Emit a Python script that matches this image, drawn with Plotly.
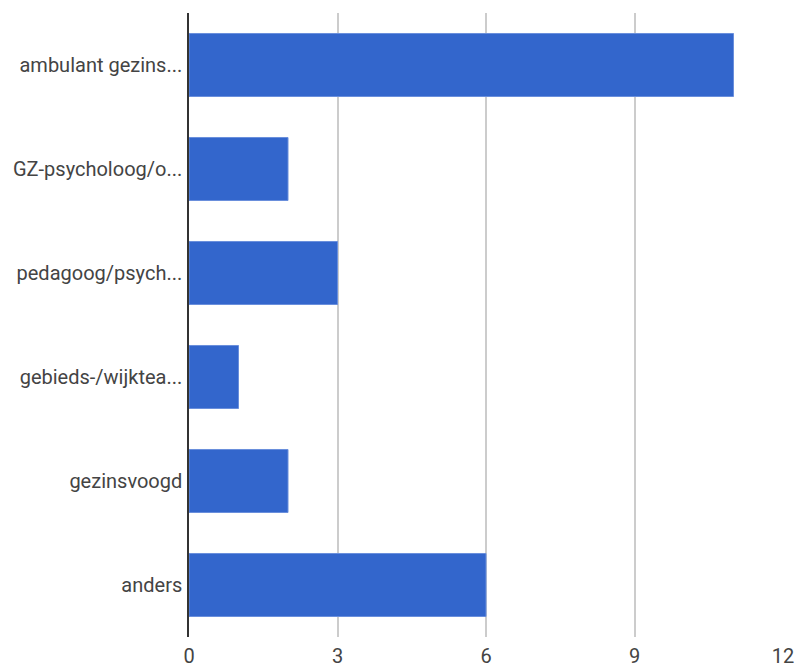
import plotly.graph_objects as go

categories = ["ambulant gezins...", "GZ-psycholoog/o...", "pedagoog/psych...",
              "gebieds-/wijktea...", "gezinsvoogd", "anders"]
values = [11, 2, 3, 1, 2, 6]
tick_vals = [0, 3, 6, 9, 12]

fig = go.Figure(go.Bar(
    x=values, y=categories, orientation="h",
    marker=dict(color="#3366cc", line=dict(color="#6a8fdc", width=1)),
))

fig.update_layout(
    width=797, height=669,
    margin=dict(l=189, r=14, t=13, b=32),
    paper_bgcolor="white", plot_bgcolor="white",
    bargap=0.394,
    showlegend=False,
    font=dict(family="Roboto", color="#444"),
)
fig.update_xaxes(
    range=[0, 12], tickvals=tick_vals, showgrid=True, gridcolor="#cccccc", gridwidth=1.5,
    zeroline=False, showline=False, ticks="", tickfont=dict(size=20, color="#444"),
    ticklabelstandoff=5, automargin=False,
)
fig.update_yaxes(
    autorange="reversed", categoryorder="array", categoryarray=categories,
    showline=True, linecolor="#333", linewidth=1.5, showgrid=False, ticks="",
    tickfont=dict(size=20, color="#444"), ticklabelstandoff=1, automargin=False,
)

fig.write_html("out.html")
